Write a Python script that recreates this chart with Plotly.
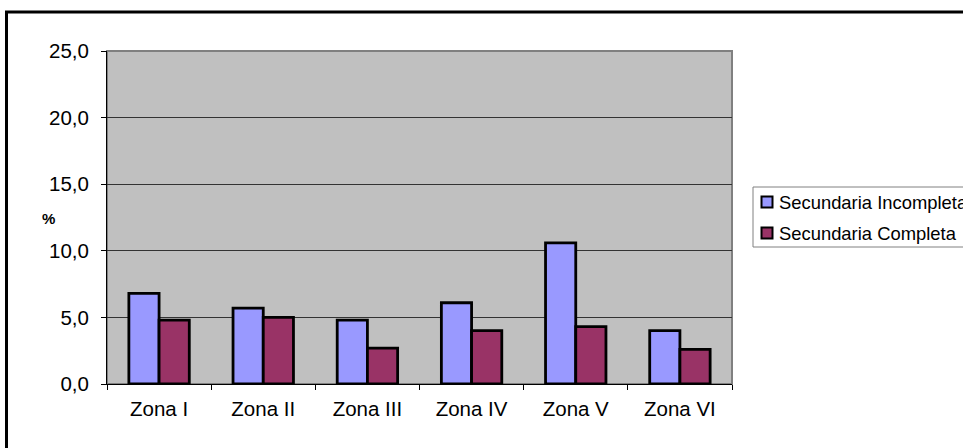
import plotly.graph_objects as go

categories = ["Zona I", "Zona II", "Zona III", "Zona IV", "Zona V", "Zona VI"]
incompleta = [6.8, 5.7, 4.8, 6.1, 10.6, 4.0]
completa = [4.8, 5.0, 2.7, 4.0, 4.3, 2.6]
series_names = ["Secundaria Incompleta", "Secundaria Completa"]
series_colors = ["#9999FF", "#993366"]
y_ticks = [0, 5, 10, 15, 20, 25]

FONT = "Liberation Sans, Arial, sans-serif"

fig = go.Figure()
for name, vals, col in zip(series_names, [incompleta, completa], series_colors):
    fig.add_trace(go.Bar(x=categories, y=vals, name=name, showlegend=False,
                         marker=dict(color=col, line=dict(color="black", width=2.8))))

W, H = 963, 448
L, T = 107, 51
PR, PB = 732, 384
R, B = W - PR, H - PB
pw, ph = PR - L, PB - T

def px_x(x):
    return (x - L) / pw

def px_y(y):
    return (PB - y) / ph

shapes = [
    dict(type="rect", xref="paper", yref="paper", x0=0, x1=1, y0=0, y1=1,
         line=dict(color="#808080", width=2), layer="below"),
    dict(type="rect", xref="paper", yref="paper",
         x0=px_x(6.5), x1=px_x(1000), y0=px_y(12), y1=px_y(480),
         line=dict(color="black", width=3)),
    # legend box
    dict(type="rect", xref="paper", yref="paper",
         x0=px_x(753), x1=px_x(1000), y0=px_y(187), y1=px_y(247),
         line=dict(color="#808080", width=1), fillcolor="white"),
]
annotations = [
    dict(text="<b>%</b>", xref="paper", yref="paper", x=px_x(40), y=px_y(218),
         showarrow=False, font=dict(size=15, family=FONT, color="black")),
]
legend_y = [202, 233]
for name, col, yy in zip(series_names, series_colors, legend_y):
    shapes.append(dict(type="rect", xref="paper", yref="paper",
                       x0=px_x(761.5), x1=px_x(772.5), y0=px_y(yy + 5.5), y1=px_y(yy - 5.5),
                       line=dict(color="black", width=2), fillcolor=col))
    annotations.append(dict(text=name, xref="paper", yref="paper", x=px_x(777), y=px_y(yy),
                            xanchor="left", yanchor="middle", showarrow=False,
                            font=dict(size=18.4, family=FONT, color="black")))

fig.update_layout(
    width=W, height=H,
    margin=dict(l=L, r=R, t=T, b=B),
    paper_bgcolor="white", plot_bgcolor="#C0C0C0",
    separators=",.",
    barmode="group", bargap=0.42, bargroupgap=0,
    font=dict(family=FONT, size=20.5, color="black"),
    showlegend=False,
    xaxis=dict(showline=True, linecolor="black", linewidth=1, ticks="outside",
               tickson="boundaries", ticklen=5, tickcolor="black",
               tickfont=dict(size=20.5), showgrid=False, ticklabelstandoff=6),
    yaxis=dict(range=[0, 25], tickvals=y_ticks, tickformat=".1f", showline=True,
               linecolor="black", linewidth=1, ticks="outside", ticklen=5,
               tickcolor="black", showgrid=True, gridcolor="#333333", gridwidth=1,
               tickfont=dict(size=20.5), zeroline=False, ticklabelstandoff=8),
    shapes=shapes,
    annotations=annotations,
)

fig.write_html("out.html", config={"displayModeBar": False},
               post_script="document.body.style.margin='0';")
